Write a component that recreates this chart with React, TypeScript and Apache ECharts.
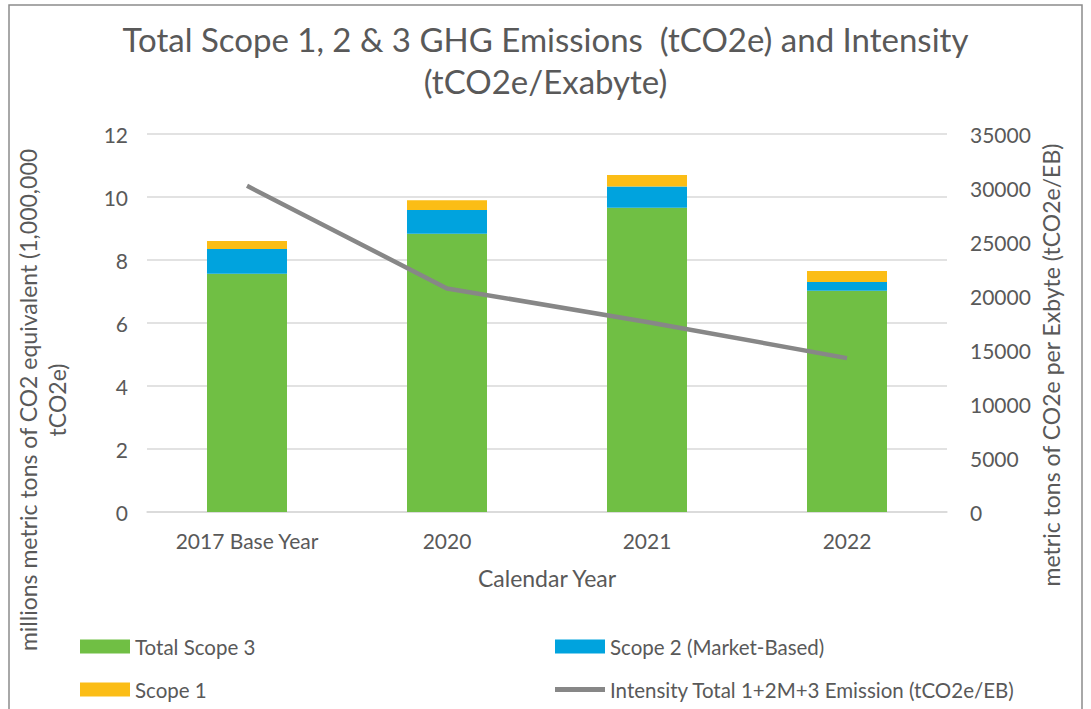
import React, { useEffect, useRef } from "react";
import * as echarts from "echarts";

const categories = ["2017 Base Year", "2020", "2021", "2022"];
const scope3 = [7.56, 8.83, 9.66, 7.02];
const scope2 = [0.79, 0.76, 0.67, 0.28];
const scope1 = [0.25, 0.31, 0.37, 0.35];
const intensity = [30200, 20700, 17600, 14250];

const FONT = "Lato";
const TXT = "#595959";

export default function App() {
  const ref = useRef<HTMLDivElement>(null);
  useEffect(() => {
    if (!ref.current) return;
    const chart = echarts.init(ref.current, undefined, { renderer: "svg" });
    const legendBase = {
      orient: "horizontal",
      itemWidth: 50,
      itemHeight: 14,
      itemGap: 0,
      padding: 0,
      selectedMode: false,
      textStyle: { fontFamily: FONT, fontSize: 20.5, color: TXT },
    };
    chart.setOption({
      animation: false,
      textStyle: { fontFamily: FONT },
      title: {
        text: "Total Scope 1, 2 & 3 GHG Emissions  (tCO2e) and Intensity\n(tCO2e/Exabyte)",
        left: "center",
        top: 13,
        textStyle: { fontFamily: FONT, fontSize: 33, fontWeight: "normal", color: TXT, lineHeight: 42 },
      },
      grid: { left: 147, right: 144, top: 134, bottom: 197 },
      legend: [
        { ...legendBase, left: 80, top: 636, data: [{ name: "Total Scope 3", icon: "rect" }] },
        { ...legendBase, left: 555, top: 636, data: [{ name: "Scope 2 (Market-Based)", icon: "rect" }] },
        { ...legendBase, left: 80, top: 679, data: [{ name: "Scope 1", icon: "rect" }] },
        { ...legendBase, left: 555, top: 679, itemHeight: 5, data: [{ name: "Intensity Total 1+2M+3 Emission (tCO2e/EB)", icon: "rect" }] },
      ],
      xAxis: {
        type: "category",
        data: categories,
        axisLine: { lineStyle: { color: "#d9d9d9", width: 1.5 } },
        axisTick: { show: false },
        axisLabel: { fontFamily: FONT, fontSize: 21, color: TXT, margin: 18 },
        name: "Calendar Year",
        nameLocation: "middle",
        nameGap: 54,
        nameTextStyle: { fontFamily: FONT, fontSize: 23, color: TXT },
      },
      yAxis: [
        {
          type: "value",
          min: 0,
          max: 12,
          interval: 2,
          axisLine: { show: false },
          axisTick: { show: false },
          splitLine: { lineStyle: { color: "#d9d9d9", width: 1.5 } },
          axisLabel: { fontFamily: FONT, fontSize: 21, color: TXT, margin: 19 },
        },
        {
          type: "value",
          min: 0,
          max: 35000,
          interval: 5000,
          axisLine: { show: false },
          axisTick: { show: false },
          splitLine: { show: false },
          axisLabel: {
            fontFamily: FONT,
            fontSize: 21,
            color: TXT,
            margin: 23,
            formatter: (v: number) => String(v),
          },
        },
      ],
      graphic: [
        {
          type: "rect",
          shape: { x: 9, y: 5, width: 1073, height: 720 },
          style: { fill: "none", stroke: "#8c8c8c", lineWidth: 1.5 },
          silent: true,
        },
        {
          type: "text",
          x: 28,
          y: 400,
          rotation: Math.PI / 2,
          style: {
            text: "millions metric tons of CO2 equivalent (1,000,000",
            fontFamily: FONT,
            fontSize: 23,
            fill: TXT,
            align: "center",
            verticalAlign: "middle",
          },
        },
        {
          type: "text",
          x: 57,
          y: 400,
          rotation: Math.PI / 2,
          style: {
            text: "tCO2e)",
            fontFamily: FONT,
            fontSize: 23,
            fill: TXT,
            align: "center",
            verticalAlign: "middle",
          },
        },
        {
          type: "text",
          x: 1051,
          y: 365,
          rotation: Math.PI / 2,
          style: {
            text: "metric tons of CO2e per Exbyte (tCO2e/EB)",
            fontFamily: FONT,
            fontSize: 23,
            fill: TXT,
            align: "center",
            verticalAlign: "middle",
          },
        },
      ],
      series: [
        {
          name: "Total Scope 3",
          type: "bar",
          stack: "e",
          data: scope3,
          barWidth: "40%",
          itemStyle: { color: "#70bf44" },
        },
        {
          name: "Scope 2 (Market-Based)",
          type: "bar",
          stack: "e",
          data: scope2,
          itemStyle: { color: "#00a3de" },
        },
        {
          name: "Scope 1",
          type: "bar",
          stack: "e",
          data: scope1,
          itemStyle: { color: "#fbbd16" },
        },
        {
          name: "Intensity Total 1+2M+3 Emission (tCO2e/EB)",
          type: "line",
          yAxisIndex: 1,
          data: intensity,
          symbol: "none",
          lineStyle: { color: "#878787", width: 4.5 },
          itemStyle: { color: "#878787" },
          z: 5,
        },
      ],
    });
    return () => chart.dispose();
  }, []);
  return <div ref={ref} style={{ width: 1091, height: 709, position: "absolute", left: 0, top: 0 }} />;
}
